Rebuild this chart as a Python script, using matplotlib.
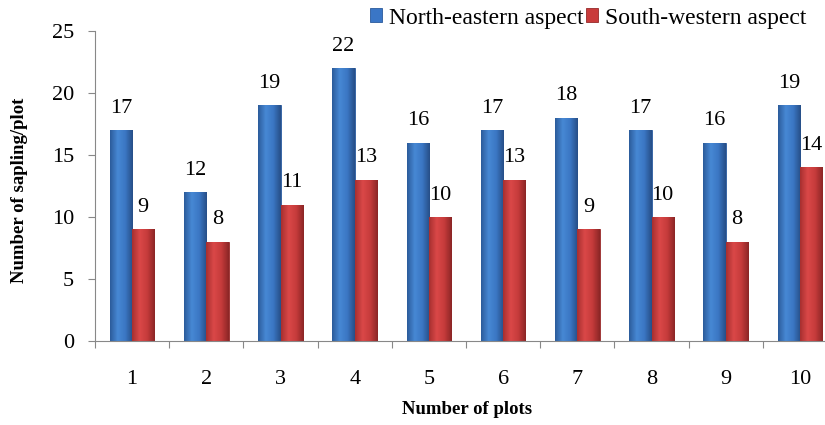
import numpy as np
import matplotlib.pyplot as plt
from matplotlib.colors import to_rgb

plt.rcParams['font.family'] = ['Liberation Serif', 'DejaVu Serif']

plots = ['1', '2', '3', '4', '5', '6', '7', '8', '9', '10']
north_east = [17, 12, 19, 22, 16, 17, 18, 17, 16, 19]
south_west = [9, 8, 11, 13, 10, 13, 9, 10, 8, 14]

blue = '#3a76c6'
red = '#c93b3b'
# edge -> middle -> edge shading, like the bevelled office bars
blue_shade = ['#2c5c9c', '#4788d4', '#3b77c4', '#274f88']
red_shade = ['#a83030', '#da4848', '#c63b3b', '#8c2626']


def shade(colors, n=40):
    stops = np.linspace(0, 1, len(colors))
    rgb = np.array([to_rgb(c) for c in colors])
    t = np.linspace(0, 1, n)
    return np.stack([np.interp(t, stops, rgb[:, i]) for i in range(3)], axis=1)


fig = plt.figure(figsize=(8.25, 4.25), dpi=100)
# the axis runs past the right border in the original (cropped)
ax = fig.add_axes([95 / 825, 84 / 425, 742 / 825, 310 / 425])

x = np.arange(len(plots))
w = 0.3
b1 = ax.bar(x - w / 2, north_east, w, color=blue, edgecolor='#2a5a9c', linewidth=0.6,
            label='North-eastern aspect')
b2 = ax.bar(x + w / 2, south_west, w, color=red, edgecolor='#962a2a', linewidth=0.6,
            label='South-western aspect')

for bars, cols in ((b1, blue_shade), (b2, red_shade)):
    g = shade(cols)[np.newaxis, :, :]
    for r in bars:
        x0, h = r.get_x(), r.get_height()
        im = ax.imshow(g, extent=[x0, x0 + r.get_width(), 0, h], aspect='auto',
                       interpolation='bilinear', zorder=r.get_zorder() + 0.1)
        im.set_clip_path(r)
        ax.annotate(str(int(h)), (x0 + r.get_width() / 2, h),
                    xytext=(0, 9), textcoords='offset points',
                    ha='center', va='bottom', fontsize=16)

ax.set_xlim(-0.5, len(plots) - 0.5)
ax.set_ylim(0, 25)
ax.set_yticks(range(0, 26, 5))
ax.set_xticks(np.arange(-0.5, len(plots), 1.0), minor=False)
ax.set_xticklabels([])
ax.set_xticks(x, minor=True)
ax.set_xticklabels(plots, minor=True)
ax.tick_params(axis='x', which='minor', length=0, pad=21, labelsize=16)
ax.tick_params(axis='x', which='major', length=5, direction='out', color='#888888')
ax.tick_params(axis='y', length=5, color='#888888', pad=10, labelsize=16)

for s in ['top', 'right']:
    ax.spines[s].set_visible(False)
ax.spines['left'].set_color('#888888')
ax.spines['bottom'].set_color('#888888')

fig.text(20 / 825, 1 - 190 / 425, 'Number of sapling/plot', rotation=90,
         ha='center', va='center', fontsize=13.5, fontweight='bold')
fig.text(467 / 825, 1 - 410 / 425, 'Number of plots',
         ha='center', va='center', fontsize=13.5, fontweight='bold')

fig.legend(handles=[b1, b2], loc='upper right', bbox_to_anchor=(818 / 825, 1.01),
           ncol=2, frameon=False, fontsize=17, handlelength=0.5, handleheight=0.5,
           handletextpad=0.3, columnspacing=0.1, borderaxespad=0.1)

fig.savefig('out.png', dpi=100)
